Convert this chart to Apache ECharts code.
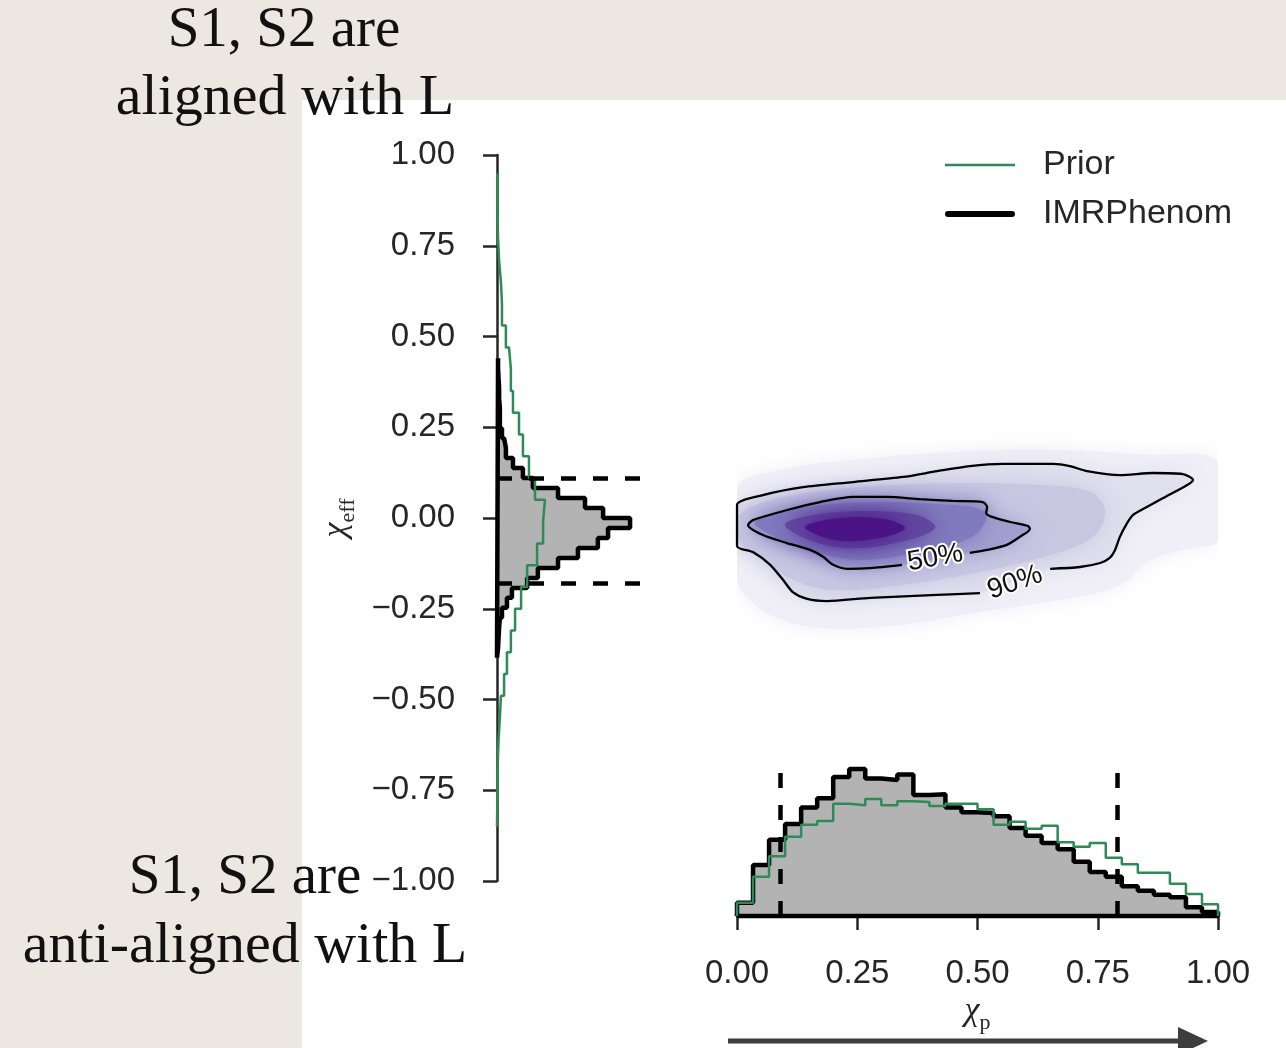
<!DOCTYPE html>
<html lang="en">

<head>
  <meta charset="UTF-8">
  <title>chi_eff / chi_p</title>
  <script src="https://cdn.jsdelivr.net/npm/echarts@6.0.0/dist/echarts.min.js"></script>
  <style>
    html, body { margin: 0; padding: 0; background: #ece8e1; }
  </style>
</head>

<body>
  <div id="main" style="width: 1286px;height:1048px;"></div>
</body>

</html>
<script>
  // chi_eff marginal, bins from low to high chi_eff
  const effImrRange = [-0.385, 0.44];
  const effImrDensity = [0.04, 0.06, 0.08, 0.11, 0.19, 0.38, 0.57, 1.15, 1.56, 2.33, 3.09, 3.85, 4.24, 5.08, 4.05,
    3.36, 2.33, 1.37, 0.99, 0.61, 0.34, 0.27, 0.19, 0.11, 0.11, 0.08, 0.08, 0.06, 0.04, 0.04];
  const effPriorRange = [-0.85, 0.95];
  const effPriorDensity = [0.01, 0.02, 0.03, 0.06, 0.11, 0.15, 0.27, 0.38, 0.53, 0.69, 0.92, 1.15, 1.53, 1.76, 1.83,
    1.45, 1.22, 0.99, 0.84, 0.61, 0.53, 0.46, 0.34, 0.19, 0.15, 0.08, 0.04, 0.02, 0.02, 0.01];
  const effInterval = [-0.18, 0.11];

  // chi_p marginal
  const chipRange = [0, 1];
  const chipImrDensity = [0.17, 0.65, 0.97, 1.17, 1.38, 1.50, 1.77, 1.87, 1.75, 1.73, 1.80, 1.54, 1.55, 1.38, 1.32,
    1.31, 1.27, 1.12, 1.02, 0.93, 0.85, 0.69, 0.56, 0.50, 0.38, 0.32, 0.27, 0.24, 0.11, 0.05];
  const chipPriorDensity = [0.17, 0.50, 0.76, 1.01, 1.16, 1.21, 1.43, 1.41, 1.49, 1.41, 1.46, 1.45, 1.40, 1.43, 1.43,
    1.36, 1.16, 1.20, 1.11, 1.15, 0.94, 0.88, 0.93, 0.74, 0.66, 0.55, 0.55, 0.41, 0.28, 0.15];
  const chipInterval = [0.09, 0.79];

  // 2D density: contour lines [chi_p, chi_eff]
  const contour90 = [[0.505, -0.207], [0.416, -0.212], [0.277, -0.220], [0.187, -0.229], [0.146, -0.223],
    [0.116, -0.204], [0.096, -0.171], [0.069, -0.129], [0.033, -0.094], [0, -0.077], [0, 0.036], [0.054, 0.063],
    [0.137, 0.085], [0.241, 0.099], [0.345, 0.113], [0.416, 0.129], [0.484, 0.143], [0.553, 0.149], [0.657, 0.149],
    [0.692, 0.143], [0.728, 0.129], [0.796, 0.118], [0.865, 0.124], [0.927, 0.121], [0.948, 0.105], [0.936, 0.091],
    [0.886, 0.055], [0.852, 0.030], [0.823, 0.008], [0.811, -0.014], [0.796, -0.052], [0.786, -0.088],
    [0.775, -0.110], [0.755, -0.124], [0.713, -0.135], [0.651, -0.140]];
  const contour50 = [[0.343, -0.129], [0.277, -0.138], [0.229, -0.140], [0.200, -0.129], [0.179, -0.107],
    [0.152, -0.088], [0.104, -0.069], [0.054, -0.047], [0.023, -0.019], [0.033, -0.006], [0.104, 0.022],
    [0.173, 0.044], [0.241, 0.058], [0.312, 0.058], [0.380, 0.052], [0.449, 0.047], [0.511, 0.044], [0.520, 0.030],
    [0.518, 0.014], [0.530, 0.003], [0.568, -0.011], [0.605, -0.022], [0.609, -0.030], [0.588, -0.052],
    [0.561, -0.074], [0.520, -0.088], [0.484, -0.096]];
  // density shading levels, outer to inner
  const kdeOuter = [[0, 0.083], [0.089, 0.132], [0.235, 0.160], [0.443, 0.182], [0.651, 0.187], [0.859, 0.174],
    [1.0, 0.154], [1.0, -0.061], [0.942, -0.083], [0.859, -0.116], [0.796, -0.185], [0.672, -0.226],
    [0.505, -0.259], [0.339, -0.295], [0.173, -0.303], [0.069, -0.267], [0.017, -0.212], [0, -0.171]];
  const kdeMid = [[0.004, 0.008], [0.089, 0.055], [0.235, 0.083], [0.443, 0.096], [0.630, 0.091], [0.734, 0.072],
    [0.765, 0.022], [0.744, -0.047], [0.672, -0.094], [0.526, -0.143], [0.339, -0.185], [0.193, -0.198],
    [0.110, -0.165], [0.048, -0.110], [0.004, -0.061]];
  const kdeInner = [[0.037, -0.011], [0.110, 0.022], [0.235, 0.041], [0.401, 0.039], [0.516, 0.017],
    [0.495, -0.047], [0.380, -0.094], [0.256, -0.116], [0.162, -0.094], [0.079, -0.052]];
  const kdeHigh = [[0.100, -0.017], [0.173, 0.011], [0.277, 0.019], [0.380, 0.006], [0.412, -0.028],
    [0.339, -0.066], [0.235, -0.083], [0.152, -0.061]];
  const kdeCore = [[0.141, -0.025], [0.214, 0], [0.308, -0.003], [0.349, -0.028], [0.297, -0.055], [0.204, -0.061]];
  const contourLabels = ['50%', '90%'];

  initChart();

  function histOutline(range, dens) {
    const w = (range[1] - range[0]) / dens.length;
    const pts = [[range[0], 0]];
    dens.forEach((d, i) => {
      pts.push([range[0] + i * w, d], [range[0] + (i + 1) * w, d]);
    });
    pts.push([range[1], 0]);
    return pts;
  }

  function initChart() {
    const green = '#2e8b57';
    const ink = '#262626';
    const fontAxis = 'Liberation Sans';

    // left marginal is drawn sideways: [density, chi_eff]
    const effImr = histOutline(effImrRange, effImrDensity).map(p => [p[1], p[0]]);
    const effPrior = histOutline(effPriorRange, effPriorDensity).map(p => [p[1], p[0]]);
    const chipImr = histOutline(chipRange, chipImrDensity);
    const chipPrior = histOutline(chipRange, chipPriorDensity);

    const kdeBands = [kdeOuter, contour90, kdeMid, contour50, kdeInner, kdeHigh, kdeCore];
    const kdeColors = ['#f0eff7', '#e0dfee', '#c8c7e2', '#a29fcf', '#807bbe', '#6247a0', '#4a1486'];

    const fillSeries = (pts, xi) => ({
      type: 'custom',
      xAxisIndex: xi,
      yAxisIndex: xi,
      silent: true,
      z: 1,
      data: [[0, 0]],
      renderItem: (params, api) => ({
        type: 'polygon',
        shape: { points: pts.map(p => api.coord(p)) },
        style: { fill: '#b3b3b3' }
      })
    });

    const dashed = { type: [15, 17], width: 4.5, color: '#000' };
    const nameRich = {
      a: { fontFamily: 'Liberation Serif', fontStyle: 'italic', fontSize: 34, color: ink, lineHeight: 40, verticalAlign: 'top' },
      b: { fontFamily: 'Liberation Serif', fontSize: 22, color: ink, lineHeight: 24, verticalAlign: 'bottom' }
    };

    let myChart = echarts.init(document.getElementById('main'));
    let option = {
      animation: false,
      backgroundColor: '#ece8e1',
      grid: [
        { left: 497, top: 155, width: 148, height: 726, outerBoundsMode: 'none' },
        { left: 737, top: 762, width: 481, height: 154, outerBoundsMode: 'none' },
        { left: 737, top: 155, width: 481, height: 726, outerBoundsMode: 'none' }
      ],
      xAxis: [
        { gridIndex: 0, type: 'value', min: 0, max: 5.65, show: false },
        {
          gridIndex: 1, type: 'value', min: 0, max: 1, interval: 0.25,
          name: '{a|χ}{b|p}', nameLocation: 'middle', nameGap: 78,
          nameTextStyle: { rich: nameRich },
          axisLine: { lineStyle: { color: ink, width: 2.5 } },
          axisTick: { length: 14, lineStyle: { color: ink, width: 2.5 } },
          axisLabel: { fontFamily: fontAxis, fontSize: 33, color: ink, margin: 41, formatter: v => v.toFixed(2) },
          splitLine: { show: false }
        },
        { gridIndex: 2, type: 'value', min: 0, max: 1, show: false }
      ],
      yAxis: [
        {
          gridIndex: 0, type: 'value', min: -1, max: 1, interval: 0.25,
          name: '{a|χ}{b|eff}', nameLocation: 'middle', nameGap: 138, nameRotate: 90,
          nameTextStyle: { rich: nameRich },
          axisLine: { lineStyle: { color: ink, width: 2.5 } },
          axisTick: { length: 14, lineStyle: { color: ink, width: 2.5 } },
          axisLabel: {
            fontFamily: fontAxis, fontSize: 33, color: ink, margin: 42,
            formatter: v => v.toFixed(2).replace('-', '\u2212')
          },
          splitLine: { show: false }
        },
        { gridIndex: 1, type: 'value', min: 0, max: 1.96, show: false },
        { gridIndex: 2, type: 'value', min: -1, max: 1, show: false }
      ],
      legend: {
        data: [
          { name: 'Prior', icon: 'path://M0,0H70V2.6H0Z' },
          { name: 'IMRPhenom', icon: 'path://M3,0H67A3,3 0 0 1 67,6H3A3,3 0 0 1 3,0Z' }
        ],
        orient: 'vertical',
        left: 940,
        top: 142,
        itemWidth: 70,
        itemHeight: 6,
        itemGap: 13,
        symbolKeepAspect: true,
        selectedMode: false,
        itemStyle: { borderWidth: 0 },
        textStyle: { fontFamily: fontAxis, fontSize: 34, color: ink, lineHeight: 36, padding: [0, 0, 0, 23] }
      },
      graphic: [
        { type: 'rect', z: -100, silent: true, shape: { x: 302, y: 100, width: 984, height: 948 }, style: { fill: '#ffffff' } },
        { type: 'text', z: 100, silent: true, style: { text: 'S1, S2 are', x: 284, y: 31, textAlign: 'center', textVerticalAlign: 'middle', font: '57px "Liberation Serif"', fill: '#111' } },
        { type: 'text', z: 100, silent: true, style: { text: 'aligned with L', x: 285, y: 99, textAlign: 'center', textVerticalAlign: 'middle', font: '58px "Liberation Serif"', fill: '#111' } },
        { type: 'text', z: 100, silent: true, style: { text: 'S1, S2 are', x: 245, y: 878, textAlign: 'center', textVerticalAlign: 'middle', font: '57px "Liberation Serif"', fill: '#111' } },
        { type: 'text', z: 100, silent: true, style: { text: 'anti-aligned with L', x: 245, y: 947, textAlign: 'center', textVerticalAlign: 'middle', font: '58px "Liberation Serif"', fill: '#111' } },
        { type: 'line', z: 100, silent: true, shape: { x1: 728, y1: 1041, x2: 1185, y2: 1041 }, style: { stroke: '#3d3d3d', lineWidth: 5 } },
        { type: 'polygon', z: 100, silent: true, shape: { points: [[1178, 1027], [1208, 1041], [1178, 1055]] }, style: { fill: '#3d3d3d' } }
      ],
      series: [
        fillSeries(effImr, 0),
        fillSeries(chipImr, 1),
        {
          name: 'IMRPhenom', type: 'line', xAxisIndex: 0, yAxisIndex: 0, z: 3,
          data: effImr.concat([effImr[0]]), symbol: 'none', clip: false, silent: true,
          color: '#000', lineStyle: { color: '#000', width: 4.5 },
          markLine: {
            silent: true, symbol: 'none', label: { show: false }, lineStyle: dashed,
            data: effInterval.map(v => ({ yAxis: v }))
          }
        },
        {
          name: 'IMRPhenom', type: 'line', xAxisIndex: 1, yAxisIndex: 1, z: 3,
          data: chipImr.concat([chipImr[0]]), symbol: 'none', clip: false, silent: true,
          color: '#000', lineStyle: { color: '#000', width: 4.5 },
          markLine: {
            silent: true, symbol: 'none', label: { show: false }, lineStyle: dashed,
            data: chipInterval.map(v => ({ xAxis: v }))
          }
        },
        {
          name: 'Prior', type: 'line', xAxisIndex: 0, yAxisIndex: 0, z: 4,
          data: effPrior, symbol: 'none', clip: false, silent: true,
          color: green, lineStyle: { color: green, width: 2.5 }
        },
        {
          name: 'Prior', type: 'line', xAxisIndex: 1, yAxisIndex: 1, z: 4,
          data: chipPrior, symbol: 'none', clip: false, silent: true,
          color: green, lineStyle: { color: green, width: 2.5 }
        },
        {
          type: 'custom', xAxisIndex: 2, yAxisIndex: 2, silent: true, clip: true, z: 1,
          data: kdeBands.map((b, i) => [i, 0]),
          renderItem: (params, api) => {
            const c = kdeColors[params.dataIndex];
            return {
              type: 'polygon',
              shape: { points: kdeBands[params.dataIndex].map(p => api.coord(p)), smooth: 0.35 },
              style: { fill: c, shadowBlur: 22, shadowColor: c }
            };
          }
        },
        {
          name: 'c90', type: 'line', xAxisIndex: 2, yAxisIndex: 2, z: 5, silent: true, clip: false,
          data: contour90, symbol: 'none', smooth: 0.25, lineStyle: { color: '#000', width: 2.3 }
        },
        {
          name: 'c50', type: 'line', xAxisIndex: 2, yAxisIndex: 2, z: 5, silent: true, clip: false,
          data: contour50, symbol: 'none', smooth: 0.25, lineStyle: { color: '#000', width: 2.3 }
        },
        {
          type: 'custom', xAxisIndex: 2, yAxisIndex: 2, silent: true, z: 6,
          data: [[0.412, -0.110], [0.578, -0.178]],
          renderItem: (params, api) => {
            const p = api.coord([api.value(0), api.value(1)]);
            const rot = params.dataIndex === 0 ? 10 : 19;
            return {
              type: 'text',
              x: p[0], y: p[1],
              rotation: rot * Math.PI / 180,
              style: {
                text: contourLabels[params.dataIndex],
                font: '28px "Liberation Sans"',
                fill: '#111', stroke: '#ffffff', lineWidth: 4, strokeFirst: true,
                align: 'center', verticalAlign: 'middle'
              }
            };
          }
        }
      ]
    };
    myChart.setOption(option, true);
  }
</script>
